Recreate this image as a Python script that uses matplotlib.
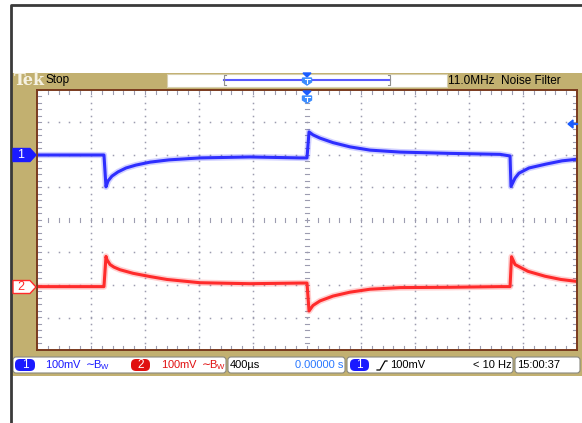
import numpy as np
import matplotlib.pyplot as plt
from matplotlib.patches import Rectangle, Polygon, FancyBboxPatch

W, H = 582, 423
TAN = '#c2b070'
BLUE = '#2e2eff'
RED = '#ff2b2b'
FONT = ['Liberation Sans Narrow', 'Liberation Sans', 'DejaVu Sans']

# screen settings
SEC_PER_DIV = 400      # us / div
VOLT_PER_DIV = 100     # mV / div
CH1_POS = 2.0          # div
CH2_POS = -2.05

# traces: time (us) and voltage (mV) relative to channel ground
ch1_t = [-2000, -1504, -1489, -1474, -1445, -1400, -1341, -1267, -1163, -1023, -793, -423, -52, 0,
         15, 44, 96, 193, 319, 467, 689, 1059, 1430, 1504,
         1511, 1541, 1570, 1644, 1770, 1889, 2000]
ch1_mv = [0, 0, -98, -80, -65, -52, -40, -31, -22, -15, -9, -6, -9, -9,
          71, 62, 52, 38, 25, 15, 9, 5, 2, -3,
          -97, -71, -56, -40, -28, -18, -13]

ch2_t = [-2000, -1504, -1489, -1482, -1459, -1430, -1385, -1289, -1163, -1037, -793, -422, -52, 0,
         15, 44, 96, 193, 319, 467, 689, 1059, 1430, 1504,
         1515, 1541, 1637, 1763, 1881, 2000]
ch2_mv = [0, 0, 93, 83, 68, 60, 52, 41, 31, 22, 12, 9, 11, 11,
          -75, -58, -44, -29, -17, -8, -3, -2, 0, 0,
          92, 68, 47, 32, 22, 16]

fig = plt.figure(figsize=(W / 100, H / 100), dpi=100)

# ---- background / frame (pixel coordinates)
bg = fig.add_axes([0, 0, 1, 1])
bg.set_xlim(0, W)
bg.set_ylim(H, 0)
bg.axis('off')
bg.plot([11, 11, W], [H, 5, 5], color='#3a3a3a', lw=2, solid_capstyle='butt')
bg.add_patch(Rectangle((12, 73), W - 12, 303, color=TAN, lw=0))

# top status bar
bg.text(14, 80.5, 'Tek', family='DejaVu Serif', weight='bold', fontsize=11.5,
        color='#f6f2e2', va='center')
bg.text(45, 80.5, 'Stop', family=FONT, fontsize=8.5, va='center')
bg.add_patch(Rectangle((167, 74), 280, 13, facecolor='white', edgecolor='#d8d0b0', lw=0.8))
bg.plot([224, 390], [80, 80], color='#5a5aff', lw=1.5)
bg.plot([226, 224, 224, 226], [75, 75, 85, 85], color='#909090', lw=0.8)
bg.plot([388, 390, 390, 388], [75, 75, 85, 85], color='#909090', lw=0.8)
bg.text(448, 80.5, '11.0MHz  Noise Filter', family=FONT, fontsize=8.5, va='center')

# bottom info bar
for x0, x1 in [(13, 226), (228, 345), (347, 513), (515, 580)]:
    bg.add_patch(FancyBboxPatch((x0, 357), x1 - x0, 16, boxstyle='round,pad=0,rounding_size=3',
                                facecolor='white', edgecolor='#8a8a80', lw=0.8))
for x0, x1, c, s in [(15, 35, '#1a1aff', '1'), (131, 150, '#e01010', '2'), (350, 369, '#1a1aff', '1')]:
    bg.add_patch(FancyBboxPatch((x0, 359), x1 - x0, 12, boxstyle='round,pad=0,rounding_size=5',
                                facecolor=c, edgecolor='none'))
    bg.text((x0 + x1) / 2, 365.5, s, color='white', fontsize=8.5, family=FONT,
            ha='center', va='center')
bg.text(45, 365.5, r'100mV $\sim\!\!\mathregular{B_W}$', color='#1a1aff', fontsize=8,
        family=FONT, va='center')
bg.text(161, 365.5, r'100mV $\sim\!\!\mathregular{B_W}$', color='#e01010', fontsize=8,
        family=FONT, va='center')
bg.text(230, 365.5, '400µs', fontsize=8, family=FONT, va='center')
bg.text(343, 365.5, '0.00000 s', color='#2a78ff', fontsize=8, family=FONT,
        ha='right', va='center')
bg.plot([377, 380, 385, 387], [370, 370, 361, 361], color='black', lw=0.9)
bg.text(390, 365.5, '100mV', fontsize=8, family=FONT, va='center')
bg.text(512, 365.5, '< 10 Hz', fontsize=8, family=FONT, ha='right', va='center')
bg.text(517, 365.5, '15:00:37', fontsize=8, family=FONT, va='center')

# ---- graticule
ax = fig.add_axes([37 / W, 1 - 350 / H, 540 / W, 260 / H])
ax.set_xlim(-5 * SEC_PER_DIV, 5 * SEC_PER_DIV)
ax.set_ylim(-4, 4)
ax.set_xticks([])
ax.set_yticks([])
for sp in ax.spines.values():
    sp.set_color('#7a3a1e')
    sp.set_linewidth(1.4)

GRID = '#9c9cb0'
xs_minor = np.arange(-2000, 2001, SEC_PER_DIV / 5)
ys_minor = np.arange(-4, 4.01, 0.2)
for d in range(-4, 5):
    if d == 0:
        continue
    x = d * SEC_PER_DIV
    ax.plot(np.full_like(ys_minor, x), ys_minor, ls='none', marker='s', ms=1.1,
            color=GRID, mew=0)
for d in range(-3, 4):
    if d == 0:
        continue
    ax.plot(xs_minor, np.full_like(xs_minor, d), ls='none', marker='s', ms=1.1,
            color=GRID, mew=0)
# centre cross and border ticks
tx = 4 * 4000 / 540
ty = 4 * 8 / 260
for x in xs_minor:
    ax.plot([x, x], [-ty / 2, ty / 2], color=GRID, lw=0.8)
    ax.plot([x, x], [4, 4 - ty], color=GRID, lw=0.8)
    ax.plot([x, x], [-4, -4 + ty], color=GRID, lw=0.8)
for y in ys_minor:
    ax.plot([-tx / 2, tx / 2], [y, y], color=GRID, lw=0.8)
    ax.plot([-2000, -2000 + tx], [y, y], color=GRID, lw=0.8)
    ax.plot([2000, 2000 - tx], [y, y], color=GRID, lw=0.8)

# traces
y1 = CH1_POS + np.array(ch1_mv) / VOLT_PER_DIV
y2 = CH2_POS + np.array(ch2_mv) / VOLT_PER_DIV
for t, y, c in [(ch1_t, y1, BLUE), (ch2_t, y2, RED)]:
    ax.plot(t, y, color=c, lw=4.5, alpha=0.22, solid_joinstyle='round')
    ax.plot(t, y, color=c, lw=2.2, solid_joinstyle='round')

# ---- overlay markers (pixel coordinates)
ov = fig.add_axes([0, 0, 1, 1])
ov.set_xlim(0, W)
ov.set_ylim(H, 0)
ov.axis('off')
ov.patch.set_alpha(0)

def channel_marker(y, face, edge, txt, tc):
    ov.add_patch(Polygon([(13, y - 6.5), (30, y - 6.5), (36, y), (30, y + 6.5), (13, y + 6.5)],
                         closed=True, facecolor=face, edgecolor=edge, lw=1))
    ov.text(21, y + 0.5, txt, color=tc, fontsize=9, family=FONT, ha='center', va='center')

channel_marker(155, '#1a1aff', '#1a1aff', '1', 'white')
channel_marker(287, 'white', RED, '2', RED)

def trig_marker(y):
    ov.add_patch(Polygon([(303, y), (311, y), (307, y + 4)], closed=True, color='#1a5cff'))
    ov.add_patch(Polygon([(302.5, y + 5), (311.5, y + 5), (311.5, y + 9), (307, y + 12),
                          (302.5, y + 9)], closed=True, color='#3b8cff'))
    ov.plot([304.5, 309.5], [y + 6.5, y + 6.5], color='white', lw=0.8)
    ov.plot([307, 307], [y + 6.5, y + 10], color='white', lw=0.8)

trig_marker(73)
trig_marker(91)

ov.add_patch(Polygon([(568, 124), (573, 120), (573, 128)], closed=True, color='#1a5cff'))
ov.plot([572, 577], [124, 124], color='#1a5cff', lw=1.6)

fig.savefig('out.png', dpi=100)
